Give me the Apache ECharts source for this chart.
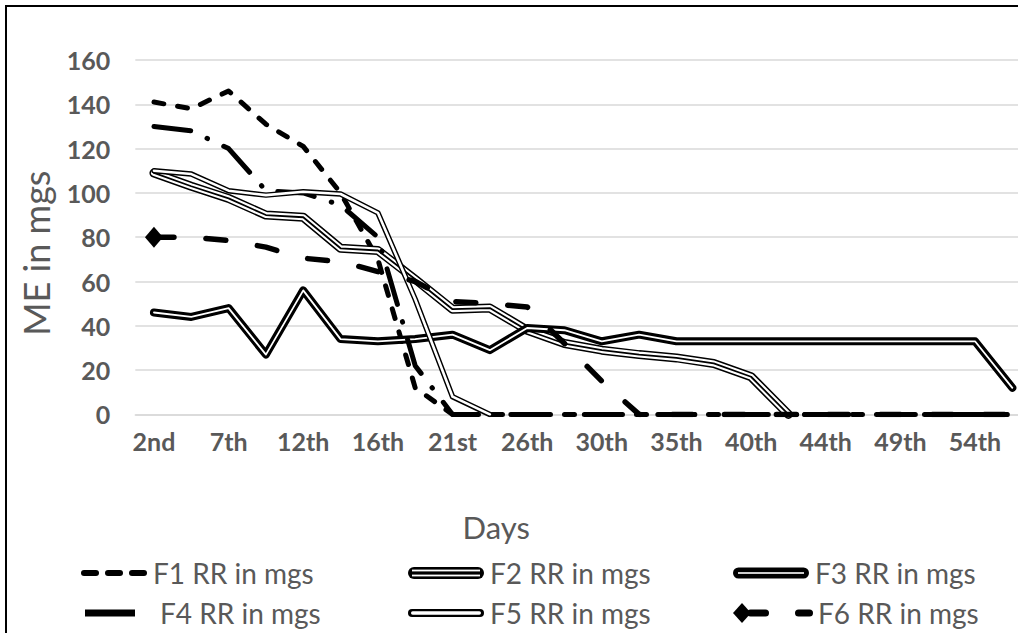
<!DOCTYPE html>
<html><head><meta charset="utf-8">
<script src="https://cdn.jsdelivr.net/npm/echarts@6/dist/echarts.min.js"></script>
<style>
html,body{margin:0;padding:0;background:#fff;overflow:hidden;width:1018px;height:633px;}
#chart{position:absolute;left:0;top:0;width:1050px;height:633px;}
#frame{position:absolute;left:5px;top:5px;width:2000px;height:2000px;border-left:2px solid #000;border-top:2px solid #000;pointer-events:none;}
</style></head>
<body>
<div id="chart"></div>
<div id="frame"></div>
<script>
const categories = ['2nd','4th','7th','9th','12th','14th','16th','19th','21st','23rd','26th','28th','30th','33rd','35th','37th','40th','42nd','44th','47th','49th','51st','54th','56th'];
const F1 = [141,138,146,131,121,100,70,12,0,0,0,0,0,0,0,0,0,0,0,0,0,0,0,0];
const F2 = [109,103,97.5,90,89,75,74,61,47.5,48,38,32,29,27,25.5,23,17,0,null,null,null,null,null,null];
const F3 = [46,44,48,27,56,34,33,34,36,29,39,38,33,36,33,33,33,33,33,33,33,33,33,12];
const F4 = [130,128,120,101,100,94.5,80,22,0,0,0,0,0,0,0,0,0,0,0,0,0,0,0,0];
const F5 = [110,108.5,101,99,100.5,99.5,91,52,8,0,null,null,null,null,null,null,null,null,null,null,null,null,null,null];
const F6 = [80,80,78.5,75.5,70.5,69,64.5,60,51,50,48.5,32,15,0,0,0,0,0,0,0,0,0,0,0];
const seriesNames = ['F1 RR in mgs','F2 RR in mgs','F3 RR in mgs','F4 RR in mgs','F5 RR in mgs','F6 RR in mgs'];
const yMin = 0, yMax = 160, yStep = 20;

const FONT = 'Lato';
const GREY = '#595959';

function svgIcon(w, h, body) {
  const s = '<svg xmlns="http://www.w3.org/2000/svg" width="' + w + '" height="' + h + '" viewBox="0 0 ' + w + ' ' + h + '">' + body + '</svg>';
  return 'image://data:image/svg+xml;charset=utf-8,' + encodeURIComponent(s);
}
const icons = {
  F1: svgIcon(68, 14, '<rect x="1" y="4" width="18" height="6" rx="3" fill="#000"/><rect x="25" y="4" width="18" height="6" rx="3" fill="#000"/><rect x="49" y="4" width="18" height="6" rx="3" fill="#000"/>'),
  F2: svgIcon(78, 14, '<rect x="1" y="1" width="76" height="12" rx="6" fill="#000"/><rect x="5" y="3.6" width="68" height="1.8" fill="#fff"/><rect x="5" y="8.6" width="68" height="1.8" fill="#fff"/>'),
  F3: svgIcon(78, 14, '<rect x="1" y="1.5" width="76" height="11" rx="5.5" fill="#000"/><rect x="6" y="6.2" width="66" height="1.6" fill="#fff"/>'),
  F4: svgIcon(70, 14, '<rect x="0" y="3.5" width="50" height="7" fill="#000"/>'),
  F5: svgIcon(78, 14, '<rect x="1" y="3" width="76" height="8" rx="4" fill="#000"/><rect x="4" y="5.3" width="70" height="3.4" rx="1.7" fill="#fff"/>'),
  F6: svgIcon(80, 22, '<path d="M9 1 L18 11 L9 21 L0 11 Z" fill="#000"/><rect x="14" y="7.5" width="22" height="7" rx="3.5" fill="#000"/><rect x="62" y="7.5" width="18" height="7" rx="3.5" fill="#000"/>')
};

function ln(name, data, width, color, type, cap, z) {
  return {
    type: 'line', name: name, data: data, symbol: 'none', silent: true, z: z,
    connectNulls: false,
    lineStyle: { color: color, width: width, type: type || 'solid', cap: cap || 'round', join: 'round' },
    emphasis: { disabled: true }
  };
}

const f6Data = F6.map(function (v, i) {
  return i === 0 ? { value: v, symbol: 'diamond', symbolSize: [18, 21], itemStyle: { color: '#000' } } : v;
});

const series = [
  ln(seriesNames[0], F1, 5, '#000', [10, 14], 'round', 2),
  ln(seriesNames[1], F2, 9, '#000', 'solid', 'round', 3),
  ln('', F2, 6, '#fff', 'solid', 'round', 3),
  ln('', F2, 1.8, '#000', 'solid', 'round', 3),
  ln(seriesNames[2], F3, 8, '#000', 'solid', 'round', 4),
  ln('', F3, 1.8, '#fff', 'solid', 'round', 4),
  ln(seriesNames[3], F4, 5, '#000', [37, 18, 0.5, 18], 'round', 5),
  ln(seriesNames[4], F5, 5.5, '#000', 'solid', 'round', 6),
  ln('', F5, 2.6, '#fff', 'solid', 'round', 6),
  ln(seriesNames[5], f6Data, 5.5, '#000', [20, 32], 'round', 7)
];

function legendAt(name, icon, left, top, w, h) {
  return {
    data: [name], left: left, top: top, icon: icon, itemWidth: w, itemHeight: h,
    selectedMode: false, padding: 0, itemGap: 0,
    textStyle: { fontFamily: FONT, fontSize: 28, color: GREY, padding: [0, 0, 0, 0] }
  };
}

const chart = echarts.init(document.getElementById('chart'), null, { renderer: 'svg' });
chart.setOption({
  animation: false,
  backgroundColor: '#fff',
  grid: { left: 135.3, right: 19, top: 60, bottom: 218.6, containLabel: false },
  xAxis: {
    type: 'category', data: categories, boundaryGap: true,
    axisLine: { show: true, lineStyle: { color: '#d9d9d9', width: 1.5 } },
    axisTick: { show: false },
    axisLabel: { interval: 1, margin: 14, fontFamily: FONT, fontWeight: 'bold', fontSize: 25, color: GREY },
    name: 'Days', nameLocation: 'middle', nameGap: 97,
    nameTextStyle: { fontFamily: FONT, fontSize: 31, color: GREY, padding: [0, 174, 0, 0] }
  },
  yAxis: {
    type: 'value', min: yMin, max: yMax, interval: yStep,
    axisLine: { show: false }, axisTick: { show: false },
    splitLine: { lineStyle: { color: '#d9d9d9', width: 1.5 } },
    axisLabel: { margin: 25, fontFamily: FONT, fontWeight: 'bold', fontSize: 25, color: GREY },
    name: 'ME in mgs', nameLocation: 'middle', nameGap: 81, nameRotate: 90,
    nameTextStyle: { fontFamily: FONT, fontSize: 36, color: GREY, padding: [0, 32, 0, 0] }
  },
  legend: [
    legendAt(seriesNames[0], icons.F1, 80, 559, 68, 14),
    legendAt(seriesNames[1], icons.F2, 407, 559, 78, 14),
    legendAt(seriesNames[2], icons.F3, 732, 559, 78, 14),
    legendAt(seriesNames[3], icons.F4, 85, 599, 70, 14),
    legendAt(seriesNames[4], icons.F5, 407, 599, 78, 14),
    legendAt(seriesNames[5], icons.F6, 733, 599, 80, 22)
  ],
  series: series
});
</script>
</body></html>
